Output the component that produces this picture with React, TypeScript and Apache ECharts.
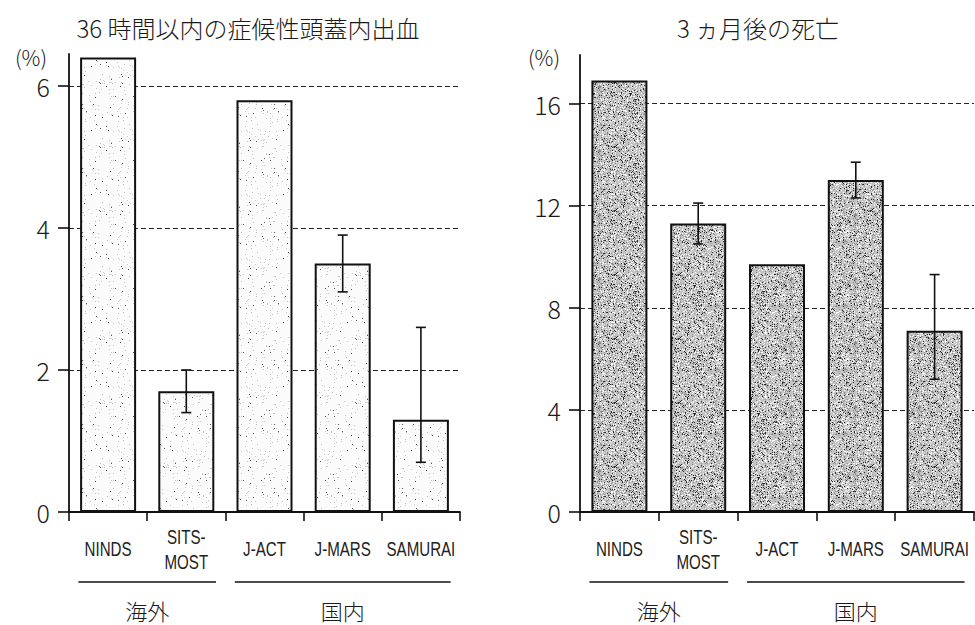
import React, { useEffect, useRef } from "react";
import * as echarts from "echarts";

const categories = ["NINDS", "SITS-\nMOST", "J-ACT", "J-MARS", "SAMURAI"];
const ichValues = [6.4, 1.7, 5.8, 3.5, 1.3];
const ichLow: (number | null)[] = [null, 1.4, null, 3.1, 0.7];
const ichHigh: (number | null)[] = [null, 2.0, null, 3.9, 2.6];
const deathValues = [16.9, 11.3, 9.7, 13.0, 7.1];
const deathLow: (number | null)[] = [null, 10.5, null, 12.3, 5.2];
const deathHigh: (number | null)[] = [null, 12.1, null, 13.7, 9.3];
const ichTicks = [0, 2, 4, 6];
const deathTicks = [0, 4, 8, 12, 16];
const groupNames = ["海外", "国内"];
const groupFrom = [0, 2];
const groupTo = [1, 4];
const titleLeft = "36 時間以内の症候性頭蓋内出血";
const titleRight = "3 ヵ月後の死亡";
const unitLabel = "(%)";

function makeStipple(bg: string, dots: { color: string; count: number }[], seed: number) {
  const size = 64;
  const c = document.createElement("canvas");
  c.width = size;
  c.height = size;
  const ctx = c.getContext("2d")!;
  ctx.fillStyle = bg;
  ctx.fillRect(0, 0, size, size);
  let s = seed >>> 0;
  const next = () => {
    s = (Math.imul(s, 1664525) + 1013904223) >>> 0;
    return s >>> 8;
  };
  dots.forEach((d) => {
    ctx.fillStyle = d.color;
    for (let i = 0; i < d.count; i++) {
      const x = next() % size;
      const y = next() % size;
      ctx.fillRect(x, y, 1, 1);
    }
  });
  return c.toDataURL();
}

const CJK = '"Noto Sans CJK JP Light", "Noto Sans CJK JP", "Noto Sans", sans-serif';
const LATIN = '"Liberation Sans", Arial, sans-serif';

export default function App() {
  const ref = useRef<HTMLDivElement>(null);
  useEffect(() => {
    if (!ref.current) return;
    const chart = echarts.init(ref.current, undefined, { renderer: "svg" });

    const lightImg = makeStipple("#fbfbfb", [
      { color: "#555", count: 35 },
      { color: "#c4c4c4", count: 120 },
    ], 7);
    const darkImg = makeStipple("#c4c4c4", [
      { color: "#2a2a2a", count: 480 },
      { color: "#ffffff", count: 820 },
      { color: "#8a8a8a", count: 500 },
    ], 13);

    const errData = (low: (number | null)[], high: (number | null)[]) =>
      low
        .map((l, i) => (l == null || high[i] == null ? null : [i, l, high[i]]))
        .filter((d) => d !== null);

    const errRender = (params: any, api: any) => {
      const i = api.value(0);
      const lo = api.coord([i, api.value(1)]);
      const hi = api.coord([i, api.value(2)]);
      const cap = 5;
      const style = { stroke: "#111", lineWidth: 1.6 };
      return {
        type: "group",
        children: [
          { type: "line", shape: { x1: lo[0], y1: lo[1], x2: hi[0], y2: hi[1] }, style },
          { type: "line", shape: { x1: lo[0] - cap, y1: lo[1], x2: lo[0] + cap, y2: lo[1] }, style },
          { type: "line", shape: { x1: hi[0] - cap, y1: hi[1], x2: hi[0] + cap, y2: hi[1] }, style },
        ],
      };
    };

    // category labels drawn as horizontally condensed text under each category
    const catData = categories.map((_, i) => [i, 0]);
    const catRender = (params: any, api: any) => {
      const p = api.coord([api.value(0), 0]);
      return {
        type: "text",
        x: p[0],
        y: p[1] + 37,
        scaleX: 0.72,
        style: {
          text: categories[params.dataIndex],
          fontSize: 21,
          lineHeight: 25,
          fontFamily: LATIN,
          fill: "#222",
          align: "center",
          verticalAlign: "middle",
        },
      };
    };

    const groupData = groupNames.map((_, i) => [groupFrom[i], 0, groupTo[i]]);
    const groupRender = (params: any, api: any) => {
      const a = api.coord([api.value(0), 0]);
      const b = api.coord([api.value(2), 0]);
      const band = api.size([1, 0])[0];
      const x1 = a[0] - band * 0.38;
      const x2 = b[0] + band * 0.38;
      const y = a[1] + 70;
      return {
        type: "group",
        children: [
          { type: "line", shape: { x1, y1: y, x2, y2: y }, style: { stroke: "#111", lineWidth: 1.6 } },
          {
            type: "text",
            x: (x1 + x2) / 2,
            y: y + 28,
            style: {
              text: groupNames[params.dataIndex],
              fontSize: 22,
              fontFamily: CJK,
              fontWeight: 300,
              fill: "#1a1a1a",
              align: "center",
              verticalAlign: "middle",
            },
          },
        ],
      };
    };

    const xAxisBase = (gridIndex: number) => ({
      type: "category",
      gridIndex,
      data: categories,
      boundaryGap: true,
      axisLine: { show: true, lineStyle: { color: "#111", width: 1.8 } },
      axisTick: { show: true, length: 9, lineStyle: { color: "#111", width: 1.6 } },
      axisLabel: { show: false },
    });

    const yAxisBase = (gridIndex: number, max: number, ticks: number[]) => ({
      type: "value",
      gridIndex,
      min: 0,
      max,
      axisLine: { show: true, lineStyle: { color: "#111", width: 1.8 } },
      axisTick: {
        show: true,
        length: 11,
        customValues: ticks,
        lineStyle: { color: "#111", width: 1.6 },
      },
      axisLabel: {
        customValues: ticks,
        margin: 19,
        color: "#1a1a1a",
        fontSize: 25,
        lineHeight: 26,
        fontWeight: 300,
        fontFamily: CJK,
      },
      splitLine: {
        show: true,
        showMinLine: false,
        lineStyle: { color: "#222", type: [5, 3], width: 1.2 },
      },
    });

    const barSeries = (idx: number, data: number[], img: string) => ({
      type: "bar",
      xAxisIndex: idx,
      yAxisIndex: idx,
      data,
      barWidth: 56,
      itemStyle: {
        color: { image: img, repeat: "repeat" },
        borderColor: "#111",
        borderWidth: 2,
      },
      z: 2,
    });

    const titleStyle = { fontSize: 24, fontWeight: 300, color: "#1a1a1a", fontFamily: CJK };
    const unitStyle = {
      text: unitLabel,
      fontSize: 21,
      lineHeight: 22,
      fontWeight: 300,
      fontFamily: CJK,
      fill: "#1a1a1a",
      align: "center",
      verticalAlign: "middle",
    };

    chart.setOption({
      animation: false,
      backgroundColor: "#ffffff",
      title: [
        { text: titleLeft, left: 243, top: 10, textAlign: "center", textStyle: titleStyle },
        { text: titleRight, left: 753, top: 10, textAlign: "center", textStyle: titleStyle },
      ],
      graphic: [
        { type: "text", x: 31, y: 57, style: unitStyle },
        { type: "text", x: 544, y: 57, style: unitStyle },
      ],
      grid: [
        { left: 69, right: 515, top: 54, bottom: 113 },
        { left: 580, right: 1, top: 55, bottom: 113 },
      ],
      xAxis: [xAxisBase(0), xAxisBase(1)],
      yAxis: [yAxisBase(0, 6.45, ichTicks), yAxisBase(1, 17.9, deathTicks)],
      series: [
        barSeries(0, ichValues, lightImg),
        barSeries(1, deathValues, darkImg),
        { type: "custom", xAxisIndex: 0, yAxisIndex: 0, data: errData(ichLow, ichHigh), renderItem: errRender, z: 5, clip: false },
        { type: "custom", xAxisIndex: 1, yAxisIndex: 1, data: errData(deathLow, deathHigh), renderItem: errRender, z: 5, clip: false },
        { type: "custom", xAxisIndex: 0, yAxisIndex: 0, data: catData, renderItem: catRender, z: 5, clip: false, silent: true },
        { type: "custom", xAxisIndex: 1, yAxisIndex: 1, data: catData, renderItem: catRender, z: 5, clip: false, silent: true },
        { type: "custom", xAxisIndex: 0, yAxisIndex: 0, data: groupData, renderItem: groupRender, z: 5, clip: false, silent: true },
        { type: "custom", xAxisIndex: 1, yAxisIndex: 1, data: groupData, renderItem: groupRender, z: 5, clip: false, silent: true },
      ],
    });
    return () => chart.dispose();
  }, []);
  return (
    <div
      ref={ref}
      style={{ position: "fixed", left: 0, top: 0, width: 975, height: 625, background: "#fff" }}
    />
  );
}
